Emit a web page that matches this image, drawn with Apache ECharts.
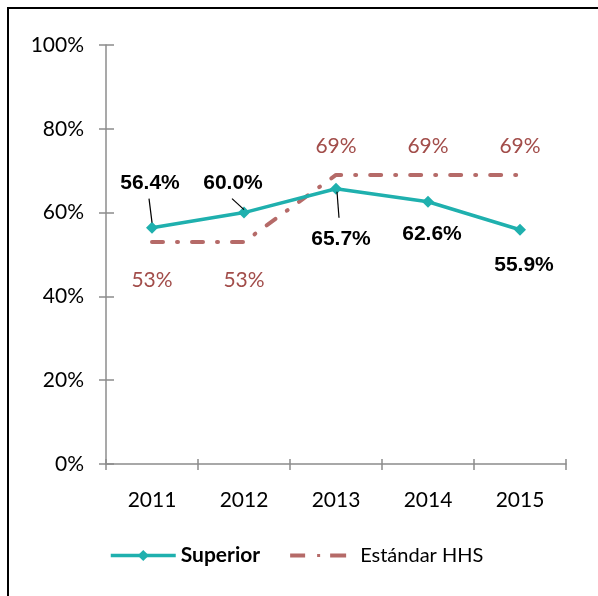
<!DOCTYPE html>
<html>
<head>
<meta charset="utf-8">
<script src="https://cdn.jsdelivr.net/npm/echarts@6/dist/echarts.min.js"></script>
<style>
    html, body {margin: 0; padding: 0; background: #fff; overflow: hidden;}
    #wrap {position: relative; width: 598px; height: 596px;}
    #frame {position: absolute; left: 7px; top: 7px; width: 700px; height: 700px; border: 2px solid #000;}
    #main {position: absolute; left: 0; top: 0; width: 598px; height: 596px;}
</style>
</head>
<body>
<div id="wrap">
    <div id="frame"></div>
    <div id="main"></div>
</div>
<script>
//年份
var years = ["2011", "2012", "2013", "2014", "2015"];
//Superior 数值 (%)
var superiorValues = [56.4, 60.0, 65.7, 62.6, 55.9];
//Estándar HHS 数值 (%)
var hhsValues = [53, 53, 69, 69, 69];
//y轴刻度
var yTicks = [0, 20, 40, 60, 80, 100];

//颜色
var tealColor = "#1FB0AE";
var hhsColor = "#B56A68";
var hhsLabelColor = "#A24D4A";
var axisColor = "#8C8C8C";

//Superior 标签位置 [position, distance, dx]
var superiorLabelPos = [
    ["top", 28, -2],
    ["top", 13, -11],
    ["bottom", 34, 5],
    ["bottom", 16, 4],
    ["bottom", 19, 4]
];
//引导线 (相对数据点的像素偏移) [index, x1, y1, x2, y2]
var leaderLines = [
    [0, -3, -29, 0, -5],
    [1, -12, -14, 0, -3],
    [2, 1, 3, 3, 29]
];

function buildSuperior() {
    var out = [];
    for (var i = 0; i < superiorValues.length; i++) {
        var p = superiorLabelPos[i];
        out.push({
            value: superiorValues[i],
            label: {position: p[0], distance: p[1], offset: [p[2], 0]}
        });
    }
    return out;
}

function buildHhs() {
    var out = [];
    for (var i = 0; i < hhsValues.length; i++) {
        var up = hhsValues[i] > 60;
        out.push({
            value: hhsValues[i],
            label: {position: up ? "top" : "bottom", distance: up ? 18 : 28}
        });
    }
    return out;
}

var chart = echarts.init(document.getElementById("main"));
chart.setOption({
    animation: false,
    grid: {left: 106, right: 32, top: 45, bottom: 132},
    legend: {
        left: 104,
        top: 540,
        itemWidth: 65,
        itemHeight: 14,
        itemGap: 30,
        data: [
            {
                name: "Superior",
                lineStyle: {width: 3.5},
                textStyle: {fontFamily: "Lato", fontWeight: "bold", fontSize: 21, color: "#000"}
            },
            {
                name: "Estándar HHS",
                icon: "path://M0,0M65,14M0,5h15v4h-15zM27,5.5h3v3h-3zM40,5h16v4h-16z",
                textStyle: {fontFamily: "Lato", fontSize: 20, color: "#000"}
            }
        ]
    },
    xAxis: [
        {
            type: "category",
            data: years,
            axisLine: {lineStyle: {color: axisColor, width: 1.5}},
            axisTick: {show: true, length: 6, lineStyle: {color: axisColor, width: 1.5}},
            axisLabel: {margin: 26, fontFamily: "Lato", fontSize: 21, color: "#000"}
        },
        {
            //内侧刻度
            type: "category",
            data: years,
            position: "bottom",
            axisLine: {show: false},
            axisTick: {show: true, inside: true, length: 5, lineStyle: {color: axisColor, width: 1.5}},
            axisLabel: {show: false}
        }
    ],
    yAxis: [
        {
            type: "value",
            min: yTicks[0],
            max: yTicks[yTicks.length - 1],
            interval: yTicks[1] - yTicks[0],
            axisLine: {show: true, lineStyle: {color: axisColor, width: 1.5}},
            axisTick: {show: true, length: 7, lineStyle: {color: axisColor, width: 1.5}},
            splitLine: {show: false},
            axisLabel: {margin: 22, formatter: "{value}%", fontFamily: "Lato", fontSize: 21, color: "#000"}
        },
        {
            //内侧刻度
            type: "value",
            position: "left",
            min: yTicks[0],
            max: yTicks[yTicks.length - 1],
            interval: yTicks[1] - yTicks[0],
            axisLine: {show: false},
            axisTick: {show: true, inside: true, length: 8, lineStyle: {color: axisColor, width: 1.5}},
            splitLine: {show: false},
            axisLabel: {show: false}
        }
    ],
    series: [
        {
            name: "Estándar HHS",
            type: "line",
            symbol: "circle",
            symbolSize: 0,
            itemStyle: {color: hhsColor},
            lineStyle: {color: hhsColor, width: 4, type: [11, 14, 1, 14], cap: "round"},
            label: {
                show: true,
                formatter: "{c}%",
                fontFamily: "Lato",
                fontSize: 21,
                color: hhsLabelColor
            },
            data: buildHhs()
        },
        {
            name: "Superior",
            type: "line",
            symbol: "diamond",
            symbolSize: 12,
            itemStyle: {color: tealColor},
            lineStyle: {color: tealColor, width: 3.5},
            label: {
                show: true,
                formatter: function (p) { return p.value.toFixed(1) + "%"; },
                fontFamily: "Liberation Sans",
                fontWeight: "bold",
                fontSize: 21,
                color: "#000"
            },
            data: buildSuperior()
        }
    ]
});

//标签引导线：从数据点位置换算
function drawLeaders() {
    var els = [];
    for (var i = 0; i < leaderLines.length; i++) {
        var l = leaderLines[i];
        var pt = chart.convertToPixel({seriesIndex: 1}, [l[0], superiorValues[l[0]]]);
        els.push({
            type: "line",
            z: 10,
            shape: {x1: pt[0] + l[1], y1: pt[1] + l[2], x2: pt[0] + l[3], y2: pt[1] + l[4]},
            style: {stroke: "#000", lineWidth: 1.2}
        });
    }
    chart.setOption({graphic: els});
}
drawLeaders();
</script>
</body>
</html>
